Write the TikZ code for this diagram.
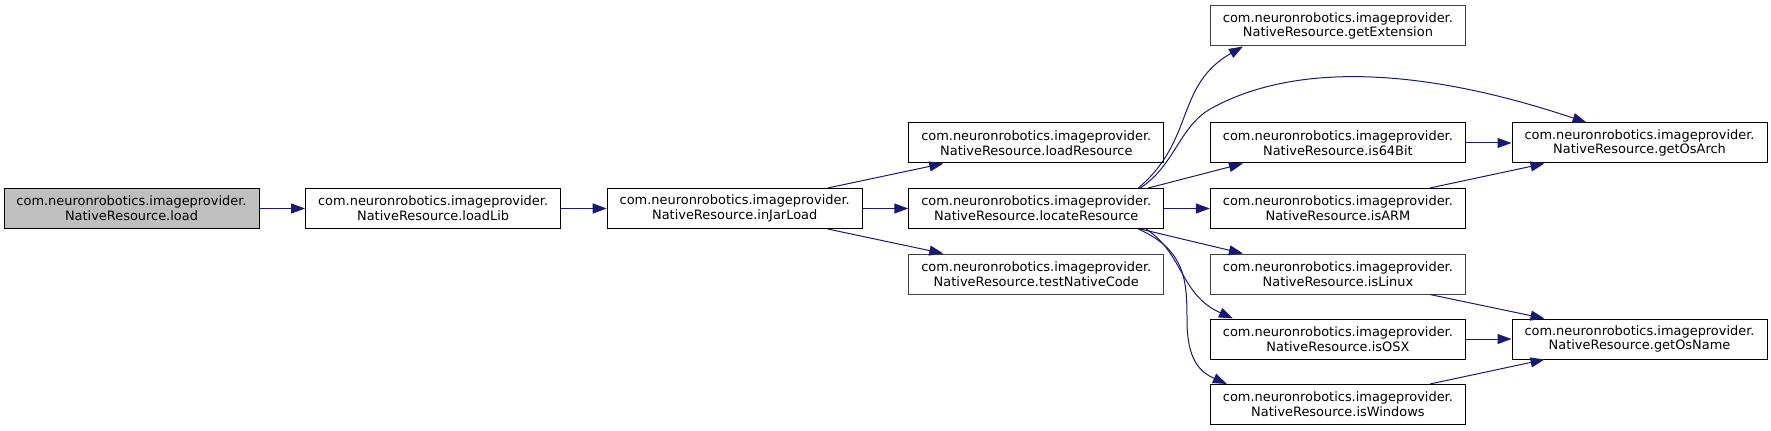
\documentclass[tikz,border=0pt]{standalone}
\usepackage{fontspec}
\setmainfont{DejaVu Sans}
\usetikzlibrary{calc,arrows.meta}
\definecolor{edgeblue}{HTML}{191970}
\definecolor{rootgray}{HTML}{BFBFBF}

\begin{document}
\begin{tikzpicture}[x=0.75pt,y=-0.75pt,
    fn/.style={draw=black,fill=white,line width=0.75pt,minimum width=191.25pt,minimum height=30pt,
        inner sep=0pt,align=center,font=\fontsize{9.7}{11}\selectfont},
    fnleaf/.style={fn,draw=black!75},
    call/.style={draw=edgeblue,line width=0.75pt,-{Triangle[length=10.5pt,width=7.5pt]}}]
    \useasboundingbox (0,0) rectangle (1771,431);
    \node[fn,fill=rootgray] (load) at (131.5,208.5) {com.neuronrobotics.imageprovider.\\NativeResource.load};
    \node[fn] (loadlib) at (433.1,208.5) {com.neuronrobotics.imageprovider.\\NativeResource.loadLib};
    \node[fn] (injar) at (734.7,208.5) {com.neuronrobotics.imageprovider.\\NativeResource.inJarLoad};
    \node[fn] (loadres) at (1036.3,143) {com.neuronrobotics.imageprovider.\\NativeResource.loadResource};
    \node[fn] (locate) at (1036.3,208.5) {com.neuronrobotics.imageprovider.\\NativeResource.locateResource};
    \node[fnleaf] (testnat) at (1036.3,274) {com.neuronrobotics.imageprovider.\\NativeResource.testNativeCode};
    \node[fnleaf] (getext) at (1337.9,26) {com.neuronrobotics.imageprovider.\\NativeResource.getExtension};
    \node[fn] (is64) at (1337.9,143) {com.neuronrobotics.imageprovider.\\NativeResource.is64Bit};
    \node[fn] (isarm) at (1337.9,208.5) {com.neuronrobotics.imageprovider.\\NativeResource.isARM};
    \node[fnleaf] (islinux) at (1337.9,274) {com.neuronrobotics.imageprovider.\\NativeResource.isLinux};
    \node[fn] (isosx) at (1337.9,339) {com.neuronrobotics.imageprovider.\\NativeResource.isOSX};
    \node[fn] (iswin) at (1337.9,404.5) {com.neuronrobotics.imageprovider.\\NativeResource.isWindows};
    \node[fn] (osarch) at (1639.5,143) {com.neuronrobotics.imageprovider.\\NativeResource.getOsArch};
    \node[fn] (osname) at (1639.5,339) {com.neuronrobotics.imageprovider.\\NativeResource.getOsName};

    \draw[call] (load) -- (loadlib);
    \draw[call] (loadlib) -- (injar);
    \draw[call] ($(injar.north)+(93,0)$) -- ($(loadres.south)+(-93,0)$);
    \draw[call] (injar) -- (locate);
    \draw[call] ($(injar.south)+(93,0)$) -- ($(testnat.north)+(-93,0)$);
    \draw[call] ($(locate.north)+(102,0)$) .. controls +(57,-48) and +(-68,39) .. ($(getext.south)+(-95,0)$);
    \draw[call] ($(locate.north)+(104,0)$) .. controls +(35,-23) and +(-33,18) .. (1212,108)
        .. controls (1300,60) and (1430,70) .. ($(osarch.north)+(-53,0)$);
    \draw[call] ($(locate.north)+(112,0)$) -- ($(is64.south)+(-95,0)$);
    \draw[call] (locate) -- (isarm);
    \draw[call] ($(locate.south)+(104,0)$) -- ($(islinux.north)+(-95,0)$);
    \draw[call] ($(locate.south)+(110,0)$) .. controls +(38,26) and +(-53,-24) .. ($(isosx.north)+(-105,0)$);
    \draw[call] ($(locate.south)+(102,0)$) .. controls +(47,21) and +(0,-40) .. (1187,320)
        .. controls +(0,40) and +(-27,-12) .. ($(iswin.north)+(-111,0)$);
    \draw[call] (is64) -- (osarch);
    \draw[call] ($(isarm.north)+(92,0)$) -- ($(osarch.south)+(-95,0)$);
    \draw[call] ($(islinux.south)+(92,0)$) -- ($(osname.north)+(-95,0)$);
    \draw[call] (isosx) -- (osname);
    \draw[call] ($(iswin.north)+(92,0)$) -- ($(osname.south)+(-95,0)$);
\end{tikzpicture}
\end{document}
